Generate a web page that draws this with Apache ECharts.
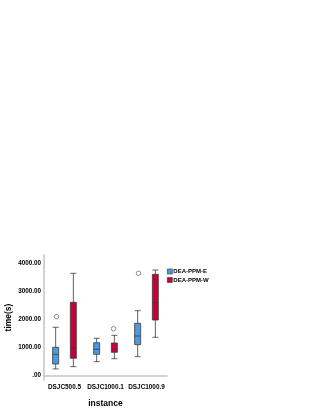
<!DOCTYPE html>
<html><head><meta charset="utf-8">
<script src="https://cdn.jsdelivr.net/npm/echarts@6/dist/echarts.min.js"></script>
<style>html,body{margin:0;padding:0;background:#fff}#c{width:316px;height:409px}</style>
</head><body><div id="c"></div>
<script>
var categories = ['DSJC500.5', 'DSJC1000.1', 'DSJC1000.9'];
var seriesNames = ['DEA-PPM-E', 'DEA-PPM-W'];
// [min, Q1, median, Q3, max]
var boxE = [[237, 413, 758, 1007, 1719], [495, 758, 936, 1171, 1327], [673, 1100, 1409, 1861, 2310]];
var boxW = [[317, 616, 993, 2608, 3640], [601, 829, 957, 1160, 1434], [1363, 1979, 2594, 3605, 3758]];
var outE = [[0, 2096], [2, 3640]];
var outW = [[1, 1669]];
var yTicks = [0, 1000, 2000, 3000, 4000];

var chart = echarts.init(document.getElementById('c'));
var font = 'Liberation Sans, Arial, sans-serif';
chart.setOption({
  animation: false,
  grid: {left: 44, right: 149, top: 255, bottom: 29},
  legend: {
    left: 167, top: 268.5, orient: 'vertical', padding: 0, itemWidth: 5, itemHeight: 5, itemGap: 2.5,
    textStyle: {fontFamily: font, fontSize: 6, fontWeight: 'bold', color: '#000', padding: [0, 0, 0, -4]},
    data: [
      {name: seriesNames[0], icon: 'rect', itemStyle: {color: '#4a9be0', borderColor: '#333', borderWidth: 0.6}},
      {name: seriesNames[1], icon: 'rect', itemStyle: {color: '#c8003c', borderColor: '#333', borderWidth: 0.6}}
    ]
  },
  xAxis: {
    type: 'category', data: categories,
    name: 'instance', nameLocation: 'middle', nameGap: 19,
    nameTextStyle: {fontFamily: font, fontSize: 8.5, fontWeight: 'bold', color: '#000'},
    axisLine: {lineStyle: {color: '#c4c4c4', width: 1.5}},
    axisTick: {show: false},
    axisLabel: {fontFamily: font, fontSize: 6.4, fontWeight: 'bold', color: '#000', margin: 4, interval: 0}
  },
  yAxis: {
    type: 'value', min: -157, max: 4292,
    name: 'time(s)', nameLocation: 'middle', nameGap: 31,
    nameTextStyle: {fontFamily: font, fontSize: 8.5, fontWeight: 'bold', color: '#000'},
    axisLine: {show: true, lineStyle: {color: '#c4c4c4', width: 1.5}},
    axisTick: {show: false},
    splitLine: {show: false},
    axisLabel: {customValues: yTicks, fontFamily: font, fontSize: 6.3, fontWeight: 'bold', color: '#000', margin: 3,
      formatter: function (v) { return v === 0 ? '.00' : v.toFixed(2); }}
  },
  series: [
    {name: seriesNames[0], type: 'boxplot', data: boxE, boxWidth: [6, 6],
      itemStyle: {color: '#4a9be0', borderColor: '#3a3a3a', borderWidth: 0.8}},
    {name: seriesNames[1], type: 'boxplot', data: boxW, boxWidth: [6, 6],
      itemStyle: {color: '#c8003c', borderColor: '#3a3a3a', borderWidth: 0.8}},
    {name: 'outE', type: 'scatter', data: outE, symbol: 'circle', symbolSize: 4.5, symbolOffset: [-8, 0],
      itemStyle: {color: '#fff', borderColor: '#555', borderWidth: 0.8}},
    {name: 'outW', type: 'scatter', data: outW, symbol: 'circle', symbolSize: 4.5, symbolOffset: [8, 0],
      itemStyle: {color: '#fff', borderColor: '#555', borderWidth: 0.8}}
  ]
});
</script></body></html>
